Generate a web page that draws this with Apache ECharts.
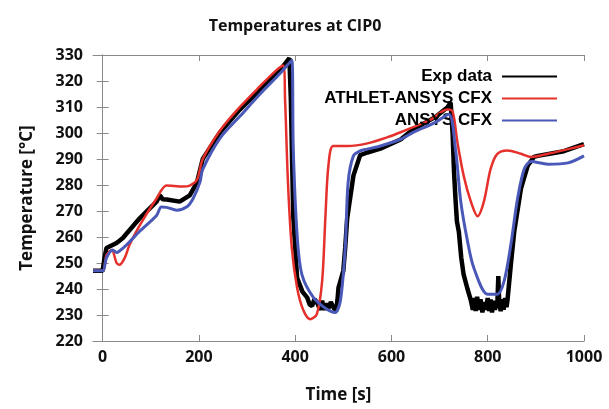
<!DOCTYPE html>
<html>
<head>
<meta charset="utf-8">
<script src="https://cdn.jsdelivr.net/npm/echarts@6/dist/echarts.min.js"></script>
<style>html,body{margin:0;padding:0;background:#fff;}#c{width:609px;height:409px;}</style>
</head>
<body>
<div id="c"></div>
<script>
// ---- data ----
const xTicks = [0, 200, 400, 600, 800, 1000];
const seriesNames = ['Exp data', 'ATHLET-ANSYS CFX', 'ANSYS CFX'];

const expTime = [-20, 0, 4, 8, 29, 42, 77, 112, 119, 125, 133, 160, 181, 196, 208, 244, 285, 327, 369, 388,
  391, 396, 404, 415, 425, 430, 435, 440, 445, 452, 456, 460, 464, 468, 474, 479, 485, 488, 490, 494, 500, 504, 508, 521, 535, 550,
  577, 619, 646, 690, 716, 723, 727, 730, 733, 736, 740, 745, 750, 758, 765, 769, 772, 775, 778, 782, 785, 789, 792, 796, 800, 803, 806,
  809, 812, 815, 818, 820, 822, 824, 827, 830, 833, 836, 839, 841, 848, 855, 869, 883, 896, 904, 958, 1000];
const expTemp = [247, 247, 252, 255.8, 257.7, 259.6, 267.2, 273.6, 276, 274.5, 274.4, 273.6, 276, 281, 290, 300.3, 309, 316.7, 324.3, 328.8,
  313, 268, 244.3, 239, 236.7, 234, 233.5, 236, 235, 232, 235.5, 232, 234.5, 232, 235, 233, 231.5, 236, 240.5, 241, 247, 256, 267, 283.6, 291.5, 292.5,
  294, 297.5, 301.5, 306, 309.8, 311.7, 300, 285, 274.8, 266, 262, 252, 245.5, 240, 235.6, 232, 236.5, 231.5, 237, 232, 236, 231, 235, 232, 236.5, 231.5, 236,
  231, 235.5, 232, 235, 234, 245, 234, 231.5, 236, 232, 236.5, 233, 235.6, 249.3, 262, 278.6, 287.4, 290.8, 291.2, 293, 295.7];

const athTime = [-20, 0, 8, 19, 29, 35, 46, 56, 77, 112, 133, 167, 181, 196, 208, 244, 285, 327, 360, 375,
  379, 385, 393, 404, 417, 431, 445, 456, 463, 469, 479, 508, 550, 592, 619, 680, 716, 727, 737, 750, 765,
  779, 792, 806, 820, 841, 869, 890, 925, 967, 1000];
const athTemp = [247, 247, 253, 255, 250, 249.3, 252, 257, 264.5, 274.8, 279.8, 279.4, 279.8, 282, 290, 301, 310, 318, 324, 326,
  313, 281, 255.8, 240.5, 231.8, 228.4, 230.3, 243, 268.5, 287.4, 295, 295, 296, 298.4, 300.3, 305, 309, 308.3, 296.5, 283.6, 273.6,
  268, 273.6, 286.2, 292, 293.3, 292, 290.8, 292, 293.8, 295.3];

const cfxTime = [-20, 0, 8, 21, 29, 35, 50, 77, 112, 122, 133, 154, 175, 188, 202, 208, 244, 285, 327, 369,
  393, 396, 404, 414, 438, 466, 483, 494, 504, 510, 521, 535, 550, 577, 619, 646, 690, 719, 733, 744, 758,
  771, 800, 820, 834, 848, 862, 876, 890, 925, 967, 1000];
const cfxTemp = [247, 247, 252, 255, 254, 254.6, 257, 262.2, 268.3, 271.5, 271.4, 270.3, 271.6, 274.8, 281, 286, 298, 306.4, 315, 323,
  328, 294, 260.8, 245.5, 236.7, 232.2, 231, 235.6, 255.8, 281, 291.2, 293.1, 293.8, 295, 297.6, 300.3, 304, 307.2, 293.8, 273.6, 258.4,
  248.2, 238, 238, 243, 257, 274.8, 286.2, 289, 288, 288.5, 291.2];

function pairs(xs, ys) { return xs.map((x, i) => [x, ys[i]]); }

const chart = echarts.init(document.getElementById('c'), null, { renderer: 'canvas' });
const axisFont = { fontFamily: 'Open Sans', fontWeight: 'bold', fontSize: 16, color: '#111' };
const frameLine = { show: true, lineStyle: { color: '#8a8a8a', width: 1 } };
const tickIn = { show: true, inside: true, length: 6, lineStyle: { color: '#8a8a8a', width: 1 } };

const option = {
  animation: false,
  backgroundColor: '#ffffff',
  title: {
    text: 'Temperatures at CIP0',
    left: 290, top: 13, textAlign: 'center',
    textStyle: { fontFamily: 'Open Sans', fontWeight: 'bold', fontSize: 16, color: '#111' }
  },
  grid: { left: 93, right: 25, top: 55, bottom: 65, containLabel: false },
  legend: {
    orient: 'vertical', right: 46, top: 63, align: 'right',
    itemWidth: 55, itemHeight: 14, itemGap: 5,
    data: seriesNames,
    itemStyle: { color: 'rgba(0,0,0,0)', borderWidth: 0, opacity: 0 },
    textStyle: { fontFamily: 'Liberation Sans', fontWeight: 'bold', fontSize: 17, color: '#000', padding: [0, 5, 0, 0] }
  },
  xAxis: [
    { type: 'value', position: 'bottom', min: -20, max: 1000,
      name: 'Time [s]', nameLocation: 'middle', nameGap: 46,
      nameTextStyle: { fontFamily: 'Open Sans', fontWeight: 'bold', fontSize: 17, color: '#111' },
      axisLine: frameLine, axisTick: Object.assign({ customValues: xTicks }, tickIn),
      axisLabel: Object.assign({ customValues: xTicks, margin: 8, formatter: v => String(v) }, axisFont),
      splitLine: { show: false } },
    { type: 'value', position: 'top', min: -20, max: 1000,
      axisLine: frameLine, axisTick: Object.assign({ customValues: xTicks }, tickIn),
      axisLabel: { show: false }, splitLine: { show: false } }
  ],
  yAxis: [
    { type: 'value', position: 'left', min: 220, max: 330, interval: 10,
      name: 'Temperature [°C]', nameLocation: 'middle', nameGap: 57, nameRotate: 90,
      nameTextStyle: { fontFamily: 'Open Sans', fontWeight: 'bold', fontSize: 17, color: '#111' },
      axisLine: frameLine, axisTick: tickIn,
      axisLabel: Object.assign({ margin: 10 }, axisFont),
      splitLine: { show: false } },
    { type: 'value', position: 'right', min: 220, max: 330, interval: 10,
      axisLine: frameLine, axisTick: tickIn, axisLabel: { show: false }, splitLine: { show: false } }
  ],
  series: [
    { name: seriesNames[0], type: 'line', data: pairs(expTime, expTemp), symbol: 'none',
      color: '#000000', lineStyle: { color: '#000000', width: 4.5 }, z: 2 },
    { name: seriesNames[1], type: 'line', data: pairs(athTime, athTemp), symbol: 'none', smooth: 0.3,
      color: '#e5302b', lineStyle: { color: '#e5302b', width: 2.5 }, z: 3 },
    { name: seriesNames[2], type: 'line', data: pairs(cfxTime, cfxTemp), symbol: 'none', smooth: 0.3,
      color: '#4a58b8', lineStyle: { color: '#4a58b8', width: 3 }, z: 4 }
  ]
};
chart.setOption(option);
</script>
</body>
</html>
